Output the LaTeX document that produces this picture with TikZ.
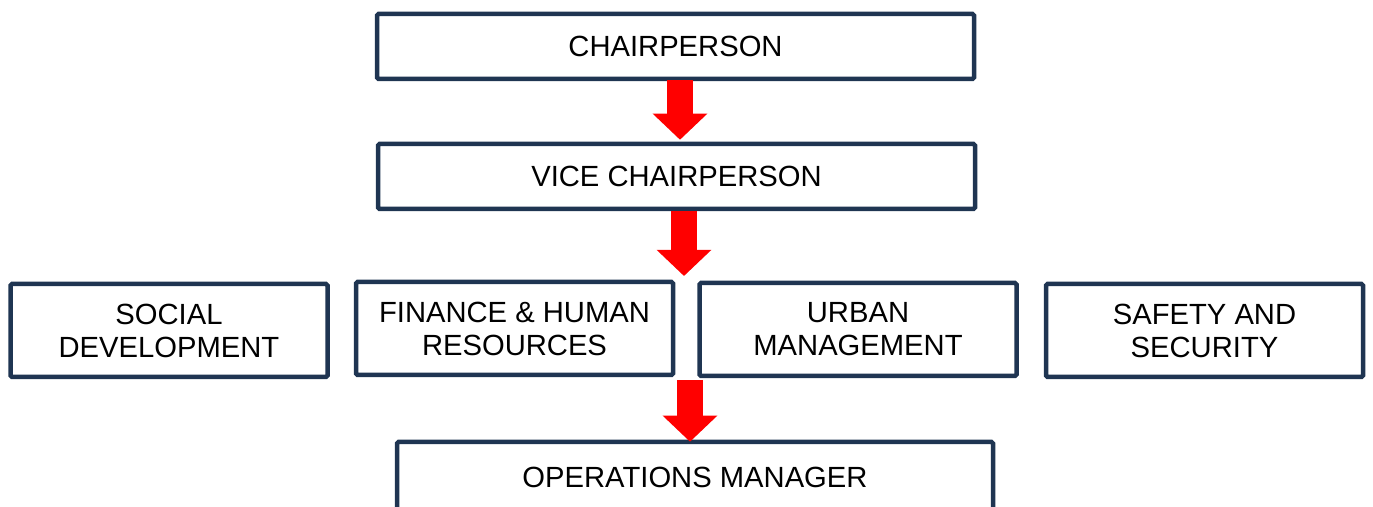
\documentclass[tikz,border=0pt]{standalone}
\usepackage{fontspec}
\setmainfont{Liberation Sans}
\usetikzlibrary{arrows.meta}
\definecolor{boxline}{RGB}{31,53,82}
\begin{document}
\begin{tikzpicture}[x=1pt,y=1pt,
  box/.style={draw=boxline, line width=4.5pt, rounded corners=1.5pt, fill=white,
    align=center, inner sep=0pt, font=\fontsize{29.2}{33}\selectfont},
  wide/.style={box, minimum width=597pt, minimum height=65pt},
  dept/.style={box, minimum width=317pt, minimum height=93pt},
  flow/.style={draw=red, line width=26pt, -{Triangle[length=26pt,width=53pt]}}]
\useasboundingbox (0,0) rectangle (1373,506);
\clip (0,0) rectangle (1373,506);
% top of the chart
\node[wide] (chair) at (675.5,459.5) {CHAIRPERSON};
\node[wide] (vice) at (676.5,329.5) {VICE CHAIRPERSON};
% departments
\node[dept] (social) at (169,175.5) {SOCIAL\\DEVELOPMENT};
\node[dept] (finance) at (514.5,177.5) {FINANCE \& HUMAN\\RESOURCES};
\node[dept] (urban) at (858,176.5) {URBAN\\MANAGEMENT};
\node[dept] (safety) at (1204.5,175.5) {SAFETY AND\\SECURITY};
% bottom box, running off the lower edge
\node[wide, minimum width=596pt, minimum height=70pt] (ops) at (695,29) {OPERATIONS MANAGER};
% flow arrows
\coordinate (t2) at (684,230);
\coordinate (s3) at (690,126);
\draw[flow] ([xshift=4.5pt,yshift=1pt]chair.south) -- ([xshift=3.5pt,yshift=2pt]vice.north);
\draw[flow] ([xshift=7.5pt]vice.south) -- (t2);
\draw[flow] (s3) -- ([xshift=-5pt,yshift=-2pt]ops.north);
\end{tikzpicture}
\end{document}
